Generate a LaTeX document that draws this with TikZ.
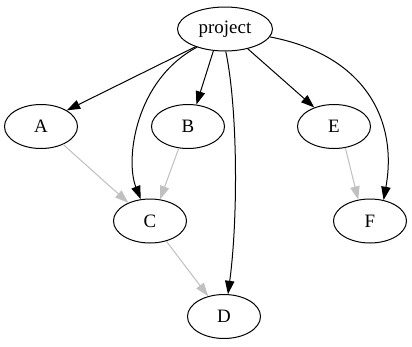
\documentclass[tikz,border=0pt]{standalone}
\usepackage{fontspec}
\setmainfont{Liberation Serif}
\usetikzlibrary{shapes.geometric,arrows.meta}
\begin{document}
\begin{tikzpicture}[x=0.75pt,y=-0.75pt,
  nd/.style={ellipse,draw,line width=0.75pt,inner sep=0pt,minimum width=54.75pt,minimum height=33pt,font=\fontsize{14.2}{17}\selectfont},
  dep/.style={-{Triangle[length=10pt,width=7pt]},line width=0.75pt,black},
  lt/.style={-{Triangle[length=10pt,width=7pt]},line width=0.75pt,draw={rgb,255:red,192;green,192;blue,192},fill={rgb,255:red,192;green,192;blue,192}}
]
\useasboundingbox (0,0) rectangle (412,347);
\node[nd,minimum width=71.25pt] (project) at (225,29) {project};
\node[nd] (A) at (41,126.5) {A};
\node[nd] (B) at (188,126.5) {B};
\node[nd] (E) at (334,126.5) {E};
\node[nd] (C) at (150,221) {C};
\node[nd] (F) at (370,221) {F};
\node[nd] (D) at (224,316.5) {D};
\draw[dep] (project.211) -- (A.32);
\draw[dep] (project.213) .. controls (135,80) and (125,160) .. (C.113.5);
\draw[dep] (project.242) -- (B.69);
\draw[dep] (project.272) .. controls (238,110) and (238,220) .. (D.80);
\draw[dep] (project.319) -- (E.136);
\draw[dep] (project.350) .. controls (365,55) and (398,120) .. (F.57.5);
\draw[lt] (A.321.5) -- (C.140);
\draw[lt] (B.247) -- (C.65.5);
\draw[lt] (C.309) -- (D.128);
\draw[lt] (E.298) -- (F.119);
\end{tikzpicture}
\end{document}
